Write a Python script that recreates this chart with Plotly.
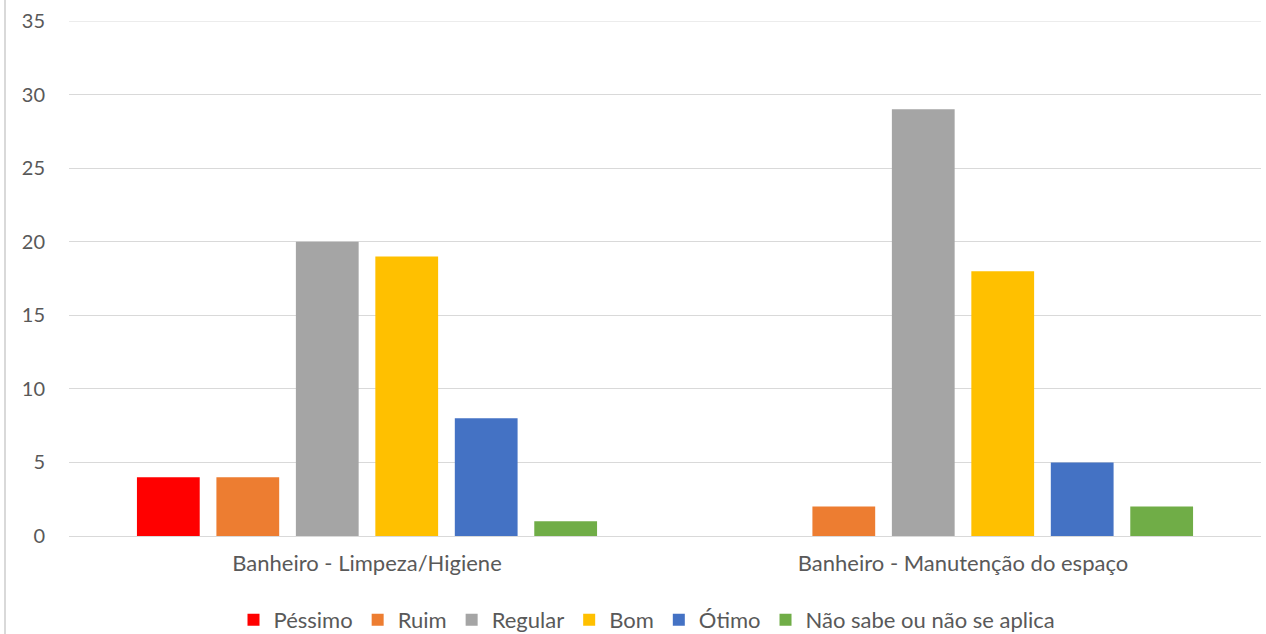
import plotly.graph_objects as go

categories = ["Banheiro - Limpeza/Higiene", "Banheiro - Manutenção do espaço"]
series_names = ["Péssimo", "Ruim", "Regular", "Bom", "Ótimo", "Não sabe ou não se aplica"]
pessimo = [4, 0]
ruim = [4, 2]
regular = [20, 29]
bom = [19, 18]
otimo = [8, 5]
nao_sabe = [1, 2]
colors = ["#FF0000", "#ED7D31", "#A5A5A5", "#FFC000", "#4472C4", "#70AD47"]
y_ticks = [0, 5, 10, 15, 20, 25, 30, 35]

values = [pessimo, ruim, regular, bom, otimo, nao_sabe]

W, H = 1266, 634
L, R, T, B = 69, 5, 21, 98
pw = W - L - R
ph = H - T - B

fig = go.Figure()
for name, vals, c in zip(series_names, values, colors):
    fig.add_trace(go.Bar(x=categories, y=vals, name=name, marker=dict(color=c, line=dict(width=0))))

FONT = "Lato, Carlito, Open Sans, sans-serif"
FS = 22
fig.update_layout(
    width=W, height=H,
    margin=dict(l=L, r=R, t=T, b=B, autoexpand=False),
    paper_bgcolor="white", plot_bgcolor="white",
    barmode="group", bargap=0.2, bargroupgap=0.21,
    font=dict(family=FONT, color="#595959", size=FS),
    showlegend=True,
    legend=dict(orientation="h", x=(647 - L) / pw, xanchor="center", y=-(620 - 536) / ph, yanchor="middle",
                font=dict(size=FS, color="#595959", family=FONT), itemwidth=30, traceorder="normal"),
    xaxis=dict(showgrid=False, showline=False, ticks="", tickfont=dict(size=FS, color="#595959", family=FONT),
               ticklabelstandoff=12),
    yaxis=dict(range=[0, 35], tickvals=y_ticks, showgrid=True, gridcolor="#D9D9D9", gridwidth=1,
               zeroline=True, zerolinecolor="#D9D9D9", zerolinewidth=1, showline=False, ticks="",
               tickfont=dict(size=20, color="#595959", family=FONT), ticklabelstandoff=23),
    shapes=[
        dict(type="line", xref="paper", yref="paper",
             x0=(5 - L) / pw, x1=(5 - L) / pw, y0=-B / ph, y1=1 + T / ph,
             line=dict(color="#D9D9D9", width=2)),
        dict(type="line", xref="paper", yref="y", x0=0, x1=1, y0=y_ticks[-1], y1=y_ticks[-1],
             line=dict(color="#D9D9D9", width=1), layer="below"),
    ],
)

fig.write_html("out.html", post_script="document.body.style.margin='0';",
               config={"displayModeBar": False})
